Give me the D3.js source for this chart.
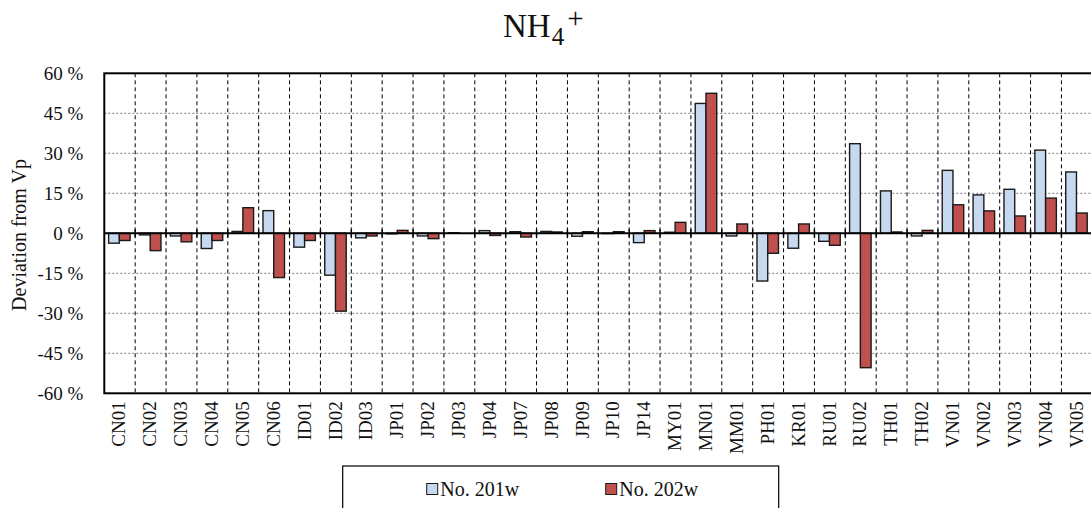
<!DOCTYPE html>
<html>
<head>
<meta charset="utf-8">
<script src="https://cdn.jsdelivr.net/npm/d3@7"></script>
<style>
  body { margin: 0; background: #fff; }
  svg { display: block; font-family: "Liberation Serif", "Times New Roman", serif; }
</style>
</head>
<body>
<div id="chart"></div>
<script>

// categories (sites) along the x axis
var sites = ["CN01","CN02","CN03","CN04","CN05","CN06","ID01","ID02","ID03",
             "JP01","JP02","JP03","JP04","JP07","JP08","JP09","JP10","JP14",
             "MY01","MN01","MM01","PH01","KR01","RU01","RU02","TH01","TH02",
             "VN01","VN02","VN03","VN04","VN05"];

// deviation from Vp (%) per series
var no201w = [-3.7, -0.6, -1.0, -5.7, 0.7, 8.5, -5.2, -15.7, -1.7,
              -0.2, -1.0, 0.2, 1.0, 0.6, 0.7, -1.1, -0.1, -3.5,
              0.4, 48.7, -1.0, -17.9, -5.6, -3.0, 33.6, 15.9, -1.0,
              23.6, 14.4, 16.5, 31.2, 23.0];
var no202w = [-2.7, -6.5, -3.2, -2.7, 9.6, -16.6, -2.7, -29.2, -1.0,
              1.1, -2.0, 0.0, -0.8, -1.4, 0.5, 0.6, 0.6, 1.0,
              4.1, 52.5, 3.5, -7.5, 3.5, -4.5, -50.4, 0.5, 1.1,
              10.7, 8.4, 6.5, 13.2, 7.6];

var seriesNames = ["No. 201w", "No. 202w"];
var seriesColors = ["#c6d9f1", "#c0504d"];
var yTicks = [-60, -45, -30, -15, 0, 15, 30, 45, 60];

var margin = {top: 73.3, left: 104.3};
var width = 988, height = 320;

var svg = d3.select("#chart").append("svg")
    .attr("width", 1091)
    .attr("height", 508);

var g = svg.append("g")
    .attr("transform", "translate(" + margin.left + "," + margin.top + ")");

// scales
var x0 = d3.scaleBand().domain(sites).range([0, width]).padding(0);
var x1 = d3.scaleBand().domain(seriesNames).range([4.3, 25.8]).padding(0);
var y = d3.scaleLinear().domain([-60, 60]).range([height, 0]);

// horizontal dotted grid
g.append("g")
    .selectAll("line")
    .data(yTicks.filter(function(t) { return t !== 0 && Math.abs(t) !== 60; }))
    .enter().append("line")
    .attr("x1", 0).attr("x2", width)
    .attr("y1", function(d) { return y(d); })
    .attr("y2", function(d) { return y(d); })
    .attr("stroke", "#7a7a7a")
    .attr("stroke-width", 1)
    .attr("stroke-dasharray", "2,2");

// vertical dashed grid between sites
g.append("g")
    .selectAll("line")
    .data(sites.slice(1))
    .enter().append("line")
    .attr("x1", function(d) { return x0(d); })
    .attr("x2", function(d) { return x0(d); })
    .attr("y1", 0).attr("y2", height)
    .attr("stroke", "#000")
    .attr("stroke-width", 1)
    .attr("stroke-dasharray", "4,3");

// bars
var rows = sites.map(function(s, i) {
    return {site: s, vals: [no201w[i], no202w[i]]};
});

g.append("g")
    .selectAll("g")
    .data(rows)
    .enter().append("g")
    .attr("transform", function(d) { return "translate(" + x0(d.site) + ",0)"; })
    .selectAll("rect")
    .data(function(d) {
        return d.vals.map(function(v, k) { return {key: seriesNames[k], value: v, k: k}; });
    })
    .enter().append("rect")
    .attr("x", function(d) { return x1(d.key); })
    .attr("width", x1.bandwidth())
    .attr("y", function(d) { return y(Math.max(0, d.value)); })
    .attr("height", function(d) { return Math.abs(y(d.value) - y(0)); })
    .attr("fill", function(d) { return seriesColors[d.k]; })
    .attr("stroke", "#1a1a1a")
    .attr("stroke-width", 1.4);

// zero line with small ticks
g.append("line")
    .attr("x1", 0).attr("x2", width)
    .attr("y1", y(0)).attr("y2", y(0))
    .attr("stroke", "#000").attr("stroke-width", 2);
g.append("g")
    .selectAll("line")
    .data(sites.slice(1))
    .enter().append("line")
    .attr("x1", function(d) { return x0(d); })
    .attr("x2", function(d) { return x0(d); })
    .attr("y1", y(0) - 4).attr("y2", y(0) + 4)
    .attr("stroke", "#000").attr("stroke-width", 1.5);

// plot frame
g.append("rect")
    .attr("x", 0).attr("y", 0)
    .attr("width", width).attr("height", height)
    .attr("fill", "none")
    .attr("stroke", "#000")
    .attr("stroke-width", 2);

// y axis labels
g.append("g")
    .selectAll("text")
    .data(yTicks)
    .enter().append("text")
    .attr("x", -21)
    .attr("y", function(d) { return y(d); })
    .attr("dy", "0.35em")
    .attr("text-anchor", "end")
    .attr("font-size", 19)
    .attr("fill", "#111")
    .text(function(d) { return d + " %"; });

// x axis labels (rotated)
g.append("g")
    .selectAll("text")
    .data(sites)
    .enter().append("text")
    .attr("transform", function(d) {
        return "translate(" + (x0(d) + x0.bandwidth() / 2 - 1) + "," + (height + 8) + ") rotate(-90)";
    })
    .attr("dy", "0.35em")
    .attr("text-anchor", "end")
    .attr("font-size", 19)
    .attr("fill", "#111")
    .text(function(d) { return d; });

// y axis title
svg.append("text")
    .attr("transform", "translate(26,235) rotate(-90)")
    .attr("text-anchor", "middle")
    .attr("font-size", 20)
    .attr("fill", "#111")
    .text("Deviation from Vp");

// chart title NH4+
var title = svg.append("text")
    .attr("x", 503)
    .attr("y", 37)
    .attr("font-size", 33)
    .attr("fill", "#111");
title.append("tspan").text("NH");
title.append("tspan").attr("font-size", 25).attr("dy", 8).attr("dx", 1).text("4");
title.append("tspan").attr("font-size", 29).attr("dy", -17).attr("dx", 3).text("+");

// legend
var legend = svg.append("g").attr("transform", "translate(342.7,466)");
legend.append("rect")
    .attr("x", 0).attr("y", 0)
    .attr("width", 436).attr("height", 60)
    .attr("fill", "#fff")
    .attr("stroke", "#000")
    .attr("stroke-width", 1.2);

var legendX = [84, 263];
var item = legend.selectAll("g.item")
    .data(seriesNames)
    .enter().append("g")
    .attr("class", "item")
    .attr("transform", function(d, i) { return "translate(" + legendX[i] + ",0)"; });
item.append("rect")
    .attr("x", 0).attr("y", 17.5)
    .attr("width", 11).attr("height", 11)
    .attr("fill", function(d, i) { return seriesColors[i]; })
    .attr("stroke", "#1a1a1a")
    .attr("stroke-width", 1);
item.append("text")
    .attr("x", 13.5).attr("y", 23)
    .attr("dy", "0.35em")
    .attr("font-size", 20)
    .attr("fill", "#111")
    .text(function(d) { return d; });

</script>
</body>
</html>
